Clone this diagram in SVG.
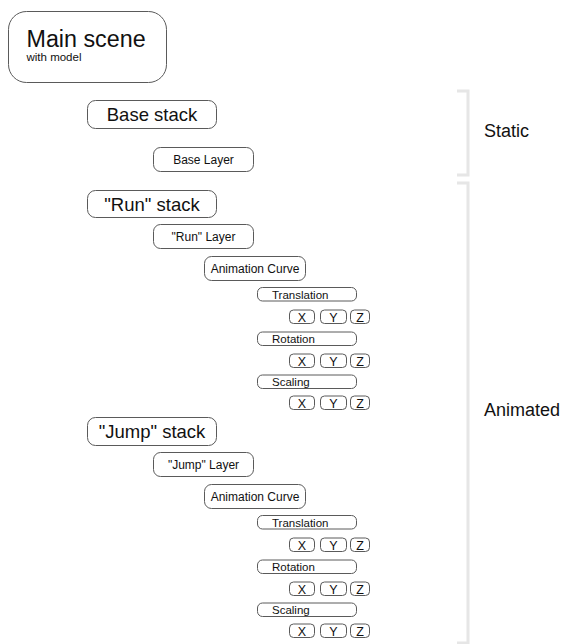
<svg xmlns="http://www.w3.org/2000/svg" width="565" height="644" viewBox="0 0 565 644">
<style>
.b{fill:#fff;stroke:#5a5a5a;stroke-width:1}
.t{font-family:"Liberation Sans",Arial,sans-serif;fill:#111}
.c{text-anchor:middle}
.big{font-size:18.5px}
.mid{font-size:12px}
.sm{font-size:11.5px}
.xyz{font-size:12.5px}
.br{fill:none;stroke:#e6e6e6;stroke-width:3}
</style>
<rect width="565" height="644" fill="#fff"/>
<g id="brackets">
<path class="br" d="M457,91 H468 V175 H457"/>
<path class="br" d="M457,183 H468 V643 H457"/>
</g>
<g id="label-static"><text class="t" x="484" y="137" font-size="18">Static</text></g>
<g id="label-animated"><text class="t" x="484" y="416" font-size="18">Animated</text></g>
<g id="main-scene">
<rect class="b" x="8.5" y="11.5" width="158" height="71" rx="18"/>
<text class="t" x="26.5" y="46.5" font-size="23.3">Main scene</text>
<text class="t" x="26.5" y="61" font-size="11.5">with model</text>
</g>
<g id="base-stack"><rect class="b" x="87.5" y="100.5" width="129" height="28" rx="8"/><text class="t c big" x="152" y="121">Base stack</text></g>
<g id="base-layer"><rect class="b" x="153.5" y="147.5" width="100" height="24" rx="7"/><text class="t c mid" x="203.5" y="164">Base Layer</text></g>

<g id="run-stack"><rect class="b" x="87.5" y="190.5" width="129" height="27" rx="8"/><text class="t c big" x="152" y="210.7">"Run" stack</text></g>
<g id="run-layer"><rect class="b" x="153.5" y="224.5" width="100" height="24" rx="7"/><text class="t c mid" x="203.5" y="241">"Run" Layer</text></g>
<g id="run-curve"><rect class="b" x="204.5" y="256.5" width="101" height="24" rx="7"/><text class="t c mid" x="255" y="273">Animation Curve</text></g>
<g id="run-translation"><rect class="b" x="257.5" y="287.5" width="99" height="13.5" rx="5"/><text class="t sm" x="272" y="298.5">Translation</text></g>
<g id="run-translation-xyz">
<rect class="b" x="289.5" y="310" width="25" height="13.5" rx="4"/><text class="t c xyz" x="302" y="321.5">X</text>
<rect class="b" x="320.5" y="310" width="26" height="13.5" rx="4"/><text class="t c xyz" x="333.5" y="321.5">Y</text>
<rect class="b" x="350.5" y="310" width="19" height="13.5" rx="4"/><text class="t c xyz" x="360" y="321.5">Z</text>
</g>
<g id="run-rotation"><rect class="b" x="257.5" y="332" width="99" height="13.5" rx="5"/><text class="t sm" x="272" y="343">Rotation</text></g>
<g id="run-rotation-xyz">
<rect class="b" x="289.5" y="354" width="25" height="13.5" rx="4"/><text class="t c xyz" x="302" y="365.5">X</text>
<rect class="b" x="320.5" y="354" width="26" height="13.5" rx="4"/><text class="t c xyz" x="333.5" y="365.5">Y</text>
<rect class="b" x="350.5" y="354" width="19" height="13.5" rx="4"/><text class="t c xyz" x="360" y="365.5">Z</text>
</g>
<g id="run-scaling"><rect class="b" x="257.5" y="375" width="99" height="13.5" rx="5"/><text class="t sm" x="272" y="386">Scaling</text></g>
<g id="run-scaling-xyz">
<rect class="b" x="289.5" y="396" width="25" height="13.5" rx="4"/><text class="t c xyz" x="302" y="407.5">X</text>
<rect class="b" x="320.5" y="396" width="26" height="13.5" rx="4"/><text class="t c xyz" x="333.5" y="407.5">Y</text>
<rect class="b" x="350.5" y="396" width="19" height="13.5" rx="4"/><text class="t c xyz" x="360" y="407.5">Z</text>
</g>

<g id="jump-stack"><rect class="b" x="87.5" y="417.5" width="129" height="28" rx="8"/><text class="t c big" x="152" y="438">"Jump" stack</text></g>
<g id="jump-layer"><rect class="b" x="153.5" y="452.5" width="100" height="24" rx="7"/><text class="t c mid" x="203.5" y="469">"Jump" Layer</text></g>
<g id="jump-curve"><rect class="b" x="204.5" y="484.5" width="101" height="24" rx="7"/><text class="t c mid" x="255" y="501">Animation Curve</text></g>
<g id="jump-translation"><rect class="b" x="257.5" y="515.5" width="99" height="13.5" rx="5"/><text class="t sm" x="272" y="526.5">Translation</text></g>
<g id="jump-translation-xyz">
<rect class="b" x="289.5" y="538" width="25" height="13.5" rx="4"/><text class="t c xyz" x="302" y="549.5">X</text>
<rect class="b" x="320.5" y="538" width="26" height="13.5" rx="4"/><text class="t c xyz" x="333.5" y="549.5">Y</text>
<rect class="b" x="350.5" y="538" width="19" height="13.5" rx="4"/><text class="t c xyz" x="360" y="549.5">Z</text>
</g>
<g id="jump-rotation"><rect class="b" x="257.5" y="560" width="99" height="13.5" rx="5"/><text class="t sm" x="272" y="571">Rotation</text></g>
<g id="jump-rotation-xyz">
<rect class="b" x="289.5" y="582" width="25" height="13.5" rx="4"/><text class="t c xyz" x="302" y="593.5">X</text>
<rect class="b" x="320.5" y="582" width="26" height="13.5" rx="4"/><text class="t c xyz" x="333.5" y="593.5">Y</text>
<rect class="b" x="350.5" y="582" width="19" height="13.5" rx="4"/><text class="t c xyz" x="360" y="593.5">Z</text>
</g>
<g id="jump-scaling"><rect class="b" x="257.5" y="603" width="99" height="13.5" rx="5"/><text class="t sm" x="272" y="614">Scaling</text></g>
<g id="jump-scaling-xyz">
<rect class="b" x="289.5" y="624" width="25" height="13.5" rx="4"/><text class="t c xyz" x="302" y="635.5">X</text>
<rect class="b" x="320.5" y="624" width="26" height="13.5" rx="4"/><text class="t c xyz" x="333.5" y="635.5">Y</text>
<rect class="b" x="350.5" y="624" width="19" height="13.5" rx="4"/><text class="t c xyz" x="360" y="635.5">Z</text>
</g>
</svg>
